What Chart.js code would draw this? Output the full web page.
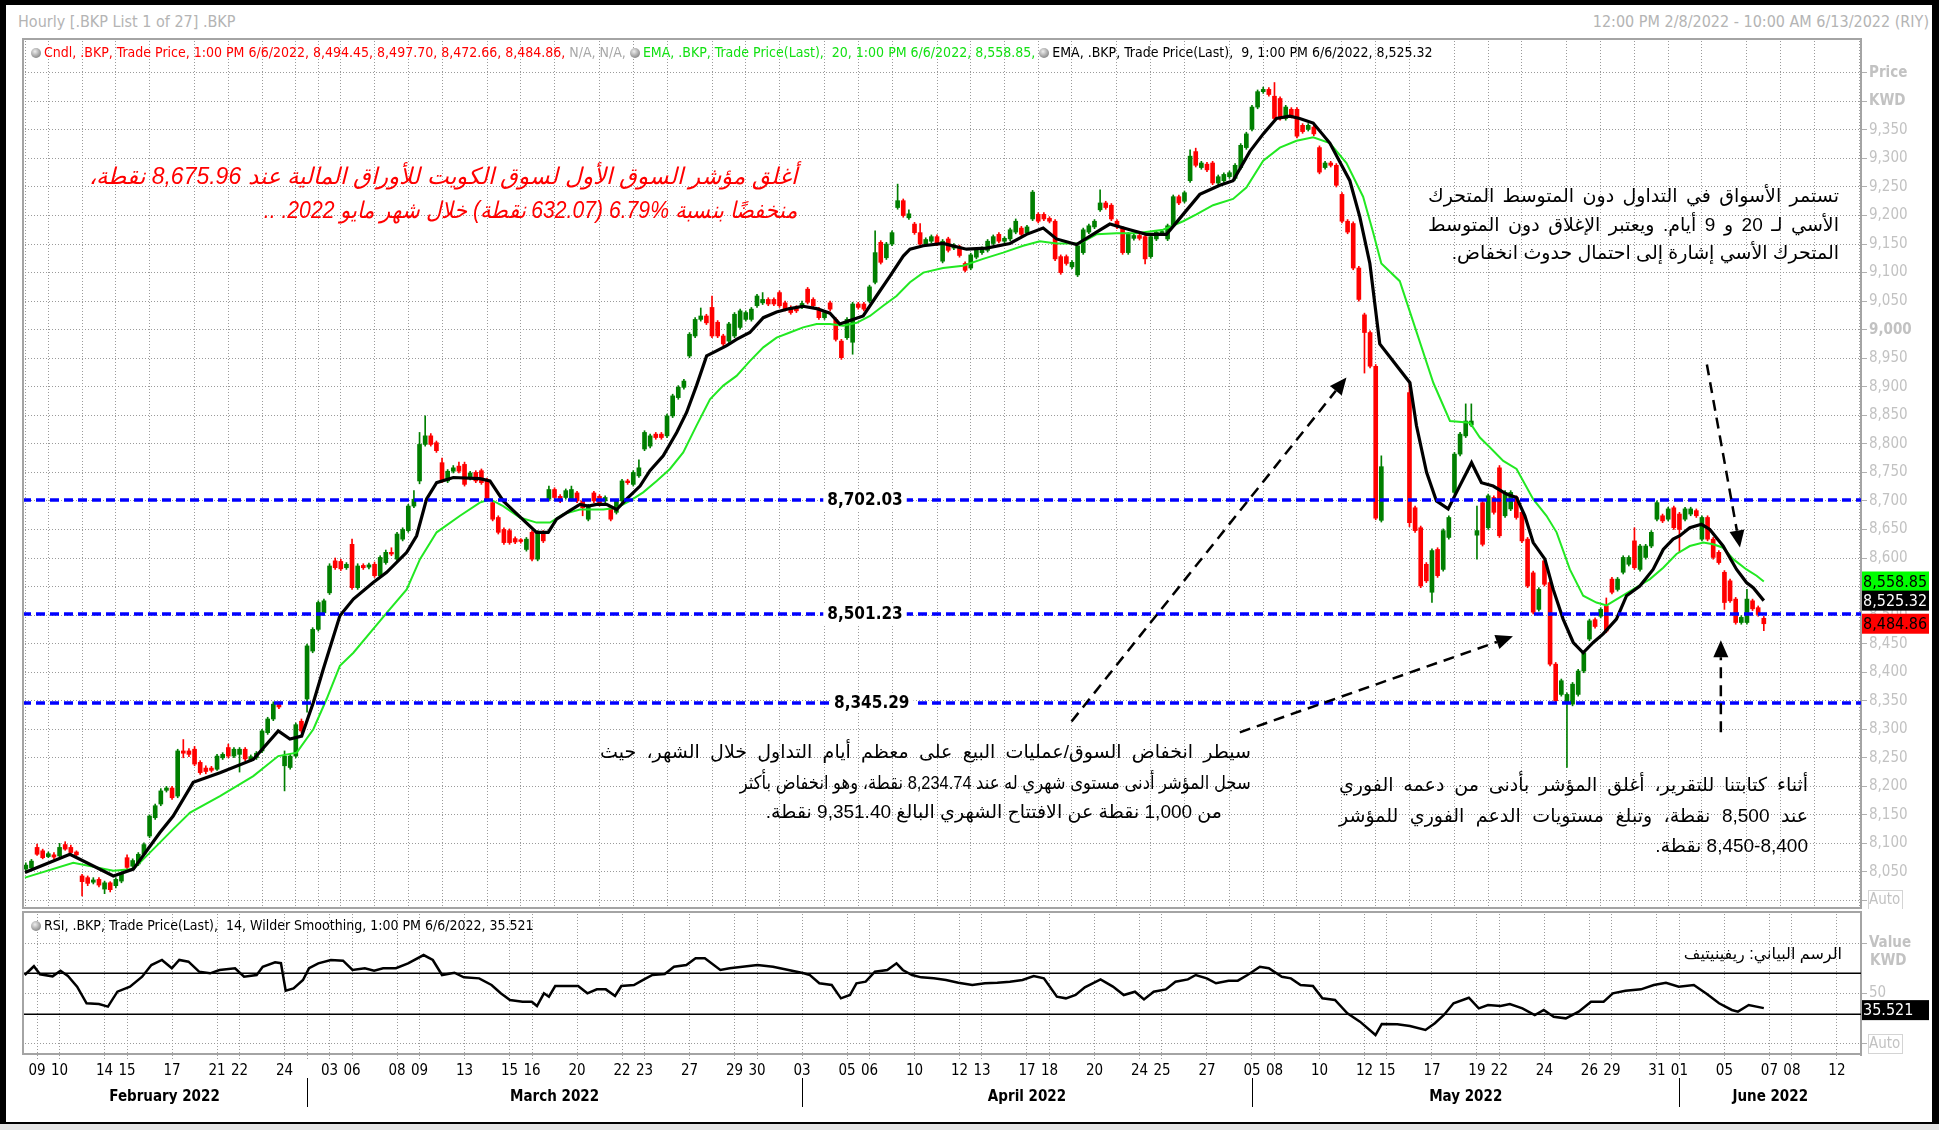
<!DOCTYPE html>
<html lang="en">
<head>
<meta charset="utf-8">
<title>.BKP Hourly</title>
<script src="https://cdn.jsdelivr.net/npm/chart.js@4.4.1/dist/chart.umd.min.js"></script>
<style>
  html, body { margin: 0; padding: 0; background: #fff; }
  body { width: 1939px; height: 1130px; position: relative; overflow: hidden;
         font-family: 'Liberation Sans Narrow', 'DejaVu Sans Condensed', sans-serif; }
  #frame { position: absolute; left: 0; top: 0; width: 1939px; height: 1124px; box-sizing: border-box;
           border-style: solid; border-color: #000; border-width: 5px 7px 2px 6px; }
  #strip { position: absolute; left: 0; top: 1124px; width: 1939px; height: 6px; background: #e4e4e4; }
  canvas { position: absolute; }
  .t { position: absolute; white-space: nowrap; }
  .hdr { color: #b4b4b4; font-size: 16px; line-height: 18px; }
  .leg { font-size: 14px; line-height: 18px; }
  .clock { display: inline-block; width: 10px; height: 10px; border-radius: 50%; margin-right: 3px;
           background: radial-gradient(circle at 40% 35%, #eeeeee, #666666); vertical-align: -1px; }
  .ar { position: absolute; direction: rtl; white-space: nowrap;
        font-family: 'Liberation Sans', 'DejaVu Sans', sans-serif; }
</style>
</head>
<body>
<div id="frame"></div>
<div id="strip"></div>
<div class="t hdr" style="left:18px;top:13px">Hourly [.BKP List 1 of 27] .BKP</div>
<div class="t hdr" style="right:10px;top:13px">12:00 PM 2/8/2022 - 10:00 AM 6/13/2022 (RIY)</div>

<canvas id="mainChart" width="1908" height="871" style="left:22px;top:38px"></canvas>
<canvas id="rsiChart" width="1908" height="209" style="left:22px;top:911px"></canvas>

<div class="t leg" style="left:31px;top:43px">
  <span class="clock"></span><span style="color:#ff0000">Cndl, .BKP, Trade Price, 1:00 PM 6/6/2022, 8,494.45, 8,497.70, 8,472.66, 8,484.86, </span><span style="color:#a8a8a8">N/A, N/A, </span><span class="clock"></span><span style="color:#12e012">EMA, .BKP, Trade Price(Last),&nbsp; 20, 1:00 PM 6/6/2022, 8,558.85, </span><span class="clock"></span><span style="color:#000">EMA, .BKP, Trade Price(Last),&nbsp; 9, 1:00 PM 6/6/2022, 8,525.32</span>
</div>
<div class="t leg" style="left:31px;top:916px">
  <span class="clock"></span><span style="color:#000">RSI, .BKP, Trade Price(Last),&nbsp; 14, Wilder Smoothing, 1:00 PM 6/6/2022, 35.521</span>
</div>

<script>
// ---- x axis: trading-day index (0 = 9 Feb 2022), 4 hourly bars per day ----
const dayTicks = [0,1,3,4,6,8,9,11,13,14,16,17,19,21,22,24,26,27,29,31,32,34,36,37,39,41,42,44,45,47,49,50,52,54,55,57,59,60,62,64,65,67,69,70,72,73,75,77,78,80];
const dayTickLabels = ['09','10','14','15','17','21','22','24','03','06','08','09','13','15','16','20','22','23','27','29','30','03','05','06','10','12','13','17','18','20','24','25','27','05','08','10','12','15','17','19','22','24','26','29','31','01','05','07','08','12'];
const monthStarts = [12, 34, 54, 73];
const monthNames = ['February 2022', 'March 2022', 'April 2022', 'May 2022', 'June 2022'];
const priceTicks = [8000,8050,8100,8150,8200,8250,8300,8350,8400,8450,8500,8550,8600,8650,8700,8750,8800,8850,8900,8950,9000,9050,9100,9150,9200,9250,9300,9350,9400,9450];
const rsiTicks = [0, 50, 100];

// ---- hourly candles, first two bars are 8 Feb 12:00 and 13:00 ----
const opens = [8055,8057,
  8093,8087,8077,8080, 8078,8098,8093,8085, 8043,8040,8032,8037, 8020,8031,8026,8034, 8075,8060,8064,8081,
  8113,8145,8169,8193, 8197,8183,8262,8262, 8265,8242,8232,8232, 8230,8250,8268,8253, 8256,8265,8247,8250,
  8262,8294,8318,8344, 8236,8233,8253,8314, 8353,8437,8475,8504, 8539,8595,8594,8583, 8624,8548,8587,8584,
  8589,8569,8592,8610, 8598,8633,8648,8691, 8735,8799,8814,8802, 8767,8735,8752,8761, 8764,8740,8750,8753,
  8735,8697,8671,8650, 8648,8634,8632,8615, 8645,8598,8645,8703, 8720,8708,8706,8703, 8714,8700,8668,8714,
  8708,8700,8688,8680, 8700,8735,8729,8744, 8791,8796,8817,8817, 8814,8849,8881,8899, 8954,8989,9018,9024,
  9039,9013,8989,8980, 8989,9004,9018,9018, 9042,9047,9053,9053, 9065,9047,9039,9039, 9040,9071,9053,9036,
  9021,9047,9018,8980, 8986,8978,9045,9045, 9050,9083,9153,9126, 9150,9214,9226,9196, 9185,9170,9150,9155,
  9163,9120,9159,9143, 9145,9116,9108,9127, 9135,9139,9151,9167, 9155,9159,9171,9178, 9170,9194,9202,9202,
  9195,9190,9128,9128, 9110,9096,9135,9171, 9180,9210,9222,9218, 9190,9178,9135,9160, 9165,9163,9128,9159,
  9168,9159,9182,9233, 9225,9261,9312,9284, 9290,9292,9257,9261, 9268,9265,9284,9319, 9351,9390,9417,9421,
  9409,9405,9370,9386, 9386,9358,9351,9355, 9319,9284,9292,9288, 9237,9190,9186,9108, 9026,8995,8936,8666,
  null,null,null,null, 8890,8688,8653,8589, 8540,8615,8580,8636, 8715,8782,8814,8833, 8640,8697,8653,8706,
  8758,8674,8686,8706, 8680,8633,8574,8510, 8595,8557,8414,8361, 8347,8344,8361,8402, 8458,8492,8498,8516,
  8563,8545,8575,8589, 8630,8580,8601,8621, 8668,8674,8668,8688, 8677,8668,8677,8683, 8633,8671,8633,8610,
  8575,8560,8528,8487, 8487,8525,8513,8494.45];
const highs = [8066,8072,
  8099,8090,8085,8084, 8100,8103,8097,8087, 8046,8043,8040,8040, 8034,8033,8040,8049, 8080,8073,8084,8101,
  8150,8169,8196,8200, 8200,8265,8282,8266, 8270,8245,8236,8235, 8256,8259,8274,8268, 8268,8268,8255,8261,
  8300,8321,8348,8348, 8262,8256,8311,8318, 8449,8478,8525,8528, 8590,8600,8598,8592, 8633,8590,8590,8591,
  8593,8604,8614,8618, 8645,8653,8694,8718, 8820,8849,8818,8805, 8775,8755,8762,8768, 8768,8752,8753,8756,
  8740,8700,8674,8653, 8651,8637,8634,8636, 8648,8648,8648,8726, 8723,8711,8721,8726, 8717,8703,8694,8717,
  8711,8709,8691,8703, 8738,8738,8753,8772, 8823,8817,8820,8820, 8852,8887,8902,8913, 8995,9021,9038,9027,
  9059,9016,8992,9013, 9030,9036,9033,9039, 9062,9065,9056,9056, 9068,9050,9042,9042, 9050,9074,9056,9039,
  9033,9050,9021,8983, 9021,9048,9048,9048, 9078,9173,9156,9153, 9173,9255,9229,9210, 9188,9186,9161,9166,
  9166,9158,9162,9151, 9148,9119,9134,9142, 9145,9158,9166,9170, 9163,9178,9194,9181, 9183,9244,9205,9205,
  9198,9193,9131,9131, 9121,9150,9178,9185, 9193,9245,9225,9221, 9193,9181,9170,9168, 9168,9166,9166,9174,
  9175,9185,9236,9236, 9243,9315,9318,9295, 9293,9295,9271,9275, 9278,9291,9326,9346, 9393,9420,9425,9424,
  9433,9408,9393,9389, 9389,9361,9361,9358, 9322,9295,9295,9291, 9240,9193,9189,9111, 9029,8998,8939,8779,
  null,null,null,null, 8910,8691,8656,8592, 8616,8618,8651,8674, 8785,8820,8870,8870, 8691,8700,8712,8709,
  8762,8718,8718,8709, 8683,8636,8577,8548, 8598,8560,8417,8388, 8364,8382,8405,8437, 8493,8495,8513,8530,
  8566,8566,8604,8604, 8653,8624,8624,8648, 8700,8677,8689,8691, 8680,8689,8689,8686, 8674,8674,8636,8613,
  8578,8563,8531,8499, 8545,8528,8516,8497.70];
const lows = [8050,8054,
  8079,8073,8075,8073, 8076,8088,8082,8078, 8008,8026,8029,8024, 8012,8015,8022,8031, 8055,8056,8061,8078,
  8110,8142,8166,8190, 8177,8180,8250,8252, 8236,8221,8222,8225, 8228,8247,8250,8250, 8225,8245,8244,8247,
  8259,8291,8315,8336, 8192,8230,8250,8294, 8330,8434,8472,8500, 8536,8580,8578,8580, 8545,8545,8580,8581,
  8566,8566,8589,8604, 8595,8630,8645,8688, 8730,8796,8796,8785, 8732,8732,8749,8749, 8726,8737,8732,8729,
  8700,8665,8642,8624, 8624,8625,8626,8612, 8595,8595,8627,8700, 8703,8697,8703,8700, 8697,8674,8665,8697,
  8691,8697,8665,8677, 8697,8729,8726,8741, 8788,8793,8808,8808, 8811,8846,8878,8896, 8951,8986,9015,9009,
  8986,8986,8972,8977, 8986,9001,9015,9015, 9039,9044,9042,9042, 9039,9033,9027,9030, 9037,9045,9039,9018,
  9018,9033,8980,8948, 8983,8957,9036,9033, 9047,9080,9115,9123, 9147,9211,9197,9193, 9167,9147,9147,9152,
  9147,9117,9136,9140, 9127,9101,9105,9124, 9132,9136,9148,9152, 9152,9156,9168,9164, 9167,9191,9187,9191,
  9187,9121,9097,9113, 9107,9093,9132,9168, 9177,9207,9211,9191, 9177,9132,9132,9157, 9157,9115,9125,9156,
  9165,9156,9179,9219, 9222,9258,9285,9281, 9277,9254,9254,9258, 9265,9262,9281,9316, 9348,9387,9414,9409,
  9367,9367,9367,9371, 9336,9344,9348,9340, 9273,9281,9285,9250, 9187,9168,9105,9050, 8924,8933,8667,8663,
  null,null,null,null, 8655,8645,8548,8557, 8522,8566,8577,8633, 8712,8779,8811,8830, 8598,8621,8650,8677,
  8636,8671,8683,8668, 8627,8548,8502,8507, 8551,8411,8347,8358, 8233,8341,8358,8399, 8455,8477,8495,8469,
  8537,8542,8572,8586, 8580,8577,8598,8618, 8665,8662,8665,8650, 8610,8665,8674,8671, 8630,8630,8598,8589,
  8510,8522,8484,8484, 8484,8508,8498,8472.66];
const closes = [8062,8069,
  8081,8075,8082,8076, 8093,8090,8084,8080, 8033,8030,8036,8027, 8031,8019,8037,8046, 8058,8070,8081,8098,
  8148,8166,8192,8197, 8180,8262,8258,8256, 8239,8224,8226,8228, 8253,8256,8253,8265, 8265,8248,8252,8258,
  8297,8318,8344,8339, 8253,8253,8308,8297, 8446,8475,8522,8525, 8586,8583,8581,8589, 8548,8586,8583,8588,
  8569,8601,8610,8607, 8642,8650,8691,8703, 8799,8814,8799,8788, 8735,8752,8758,8752, 8729,8749,8735,8732,
  8703,8668,8645,8627, 8627,8628,8629,8633, 8598,8645,8630,8720, 8706,8700,8718,8720, 8700,8688,8691,8700,
  8694,8706,8668,8700, 8735,8732,8750,8758, 8820,8814,8811,8811, 8849,8884,8899,8910, 8992,9018,9024,9012,
  8989,8989,8975,9010, 9027,9033,9030,9036, 9059,9053,9045,9045, 9042,9036,9030,9033, 9046,9048,9042,9021,
  9030,9036,8983,8951, 9018,9045,9039,9036, 9075,9135,9118,9150, 9170,9226,9200,9203, 9170,9150,9158,9163,
  9150,9155,9139,9148, 9130,9104,9131,9139, 9142,9155,9163,9155, 9160,9175,9190,9167, 9180,9241,9190,9194,
  9190,9124,9100,9116, 9118,9147,9175,9182, 9190,9222,9214,9194, 9180,9135,9167,9165, 9160,9124,9163,9171,
  9172,9182,9233,9222, 9240,9304,9288,9292, 9280,9257,9268,9272, 9275,9288,9323,9343, 9390,9417,9421,9412,
  9370,9370,9390,9374, 9339,9347,9358,9343, 9276,9292,9288,9253, 9190,9171,9108,9053, 8995,8936,8670,8760,
  null,null,null,null, 8662,8648,8551,8560, 8613,8569,8648,8671, 8782,8817,8840,8840, 8648,8624,8709,8680,
  8639,8715,8715,8671, 8630,8551,8505,8545, 8554,8414,8350,8385, 8361,8379,8402,8434, 8490,8480,8510,8472,
  8540,8563,8601,8601, 8583,8621,8621,8645, 8697,8665,8686,8653, 8650,8686,8686,8674, 8671,8633,8601,8592,
  8522,8525,8487,8496, 8528,8511,8501,8484.86];

// ---- EMA 9 (black) and EMA 20 (green) ----
const ema9Days = [-0.54,1.46,3.39,4.28,5.46,6.05,6.94,8.13,9.61,10.72,11.24,11.76,12.28,12.72,13.46,14.06,14.94,15.54,16.43,16.87,17.31,17.76,18.5,19.68,20.13,20.72,21.17,22.2,22.72,23.09,23.68,24.13,24.5,24.87,25.31,25.76,26.2,26.8,27.24,27.83,28.43,28.87,29.31,29.76,30.2,30.65,31.09,31.68,32.28,32.87,33.46,34.05,34.65,35.24,35.68,36.13,36.72,37.31,37.91,38.5,38.8,39.39,40.27,41.31,42.2,43.24,43.98,44.72,45.31,46.2,47.09,47.68,48.57,49.31,50.2,50.94,51.68,52.57,53.16,53.9,54.5,55.09,55.68,56.12,56.72,57.46,58.35,58.79,59.24,59.68,61.02,61.31,61.76,62.2,62.72,63.09,63.76,64.2,64.72,65.31,65.76,66.13,66.5,67.02,67.39,67.83,68.28,68.72,69.17,69.61,70.2,70.65,71.24,71.83,72.28,72.72,73.02,73.46,73.98,74.35,74.94,75.54,75.98,76.28,76.75];
const ema9 = [8049,8081,8043,8055,8119,8148,8207,8224,8247,8297,8283,8288,8347,8405,8499,8528,8557,8575,8610,8639,8703,8732,8741,8739,8735,8700,8683,8645,8645,8668,8683,8694,8691,8694,8694,8685,8703,8726,8753,8779,8820,8855,8902,8954,8963,8972,8983,8995,9021,9031,9037,9041,9037,9029,9010,9016,9024,9059,9094,9129,9141,9147,9151,9141,9143,9151,9167,9178,9159,9149,9171,9185,9175,9167,9167,9202,9237,9253,9261,9312,9343,9370,9374,9370,9362,9327,9261,9198,9116,8975,8907,8832,8750,8700,8686,8715,8767,8732,8726,8712,8706,8674,8627,8598,8545,8493,8452,8434,8452,8467,8493,8534,8551,8580,8615,8633,8639,8653,8659,8650,8621,8580,8557,8548,8525.32];
const ema20Days = [-0.54,1.61,3.39,4.28,5.17,6.05,6.8,8.13,9.61,10.72,11.54,12.28,12.87,13.46,14.06,15.54,16.43,17.02,17.76,18.8,19.68,20.13,20.72,21.46,22.2,22.8,23.39,24.13,25.17,25.76,26.35,26.94,27.54,28.13,28.72,29.31,29.91,30.5,31.09,31.68,32.28,32.87,33.46,34.05,34.65,35.24,35.83,36.43,37.02,37.61,38.2,38.8,39.39,40.27,41.16,42.05,42.94,43.83,44.57,45.31,46.35,47.09,47.98,48.87,50.05,50.94,51.53,52.27,53.16,53.75,54.5,55.24,55.98,56.72,57.46,58.2,58.94,59.38,59.75,60.57,62.06,62.8,63.69,64.13,64.57,65.17,65.76,66.5,67.09,67.54,68.13,68.72,69.31,69.76,70.35,70.94,71.69,72.28,72.87,73.46,74.06,74.5,74.94,75.39,75.98,76.43,76.75];
const ema20 = [8040,8066,8052,8055,8090,8125,8154,8183,8218,8253,8259,8300,8353,8411,8434,8504,8545,8598,8645,8674,8697,8703,8691,8671,8662,8662,8677,8685,8685,8688,8700,8715,8735,8756,8785,8832,8878,8902,8919,8945,8969,8986,8995,9004,9010,9010,9007,9012,9024,9042,9059,9083,9100,9108,9112,9124,9135,9147,9155,9151,9151,9167,9169,9169,9175,9190,9202,9218,9229,9249,9296,9319,9331,9337,9327,9292,9233,9171,9116,9085,8907,8840,8837,8811,8794,8770,8756,8703,8674,8645,8580,8534,8522,8517,8531,8545,8563,8583,8607,8621,8627,8624,8618,8598,8580,8569,8558.85];

// ---- RSI 14 (Wilder) ----
const rsiDays = [-0.55,-0.14,0.13,0.69,1.04,1.37,1.78,2.2,2.75,3.15,3.57,4.13,4.67,5.08,5.55,5.99,6.32,6.73,7.2,7.69,8.11,8.8,9.2,9.76,10.03,10.58,10.84,11.05,11.4,11.82,12.09,12.5,13.06,13.6,14.02,14.57,14.98,15.38,15.95,16.49,17.18,17.59,18.0,18.55,18.97,19.65,20.2,20.61,21.02,21.58,21.99,22.22,22.53,22.75,23.03,23.64,24.05,24.46,24.88,25.28,25.69,25.97,26.53,26.94,27.35,27.9,28.31,28.86,29.27,29.68,30.37,30.78,32.02,32.71,33.4,34.08,34.35,34.77,35.32,35.73,36.13,36.42,36.83,37.24,37.79,38.2,38.48,38.89,39.3,39.86,40.4,40.95,41.57,42.13,42.68,43.24,43.8,44.3,44.75,45.33,45.73,46.16,46.57,47.27,47.82,48.3,48.8,49.2,49.63,50.17,50.6,51.15,51.5,51.99,52.4,52.96,53.37,53.8,54.35,54.75,55.33,55.73,56.16,56.71,57.13,57.69,58.24,58.8,59.49,59.77,60.46,61.02,61.71,62.13,62.53,62.96,63.64,64.08,64.49,65.05,65.46,66.02,66.57,66.97,67.41,67.95,68.52,69.07,69.63,70.04,70.6,71.29,71.86,72.4,72.97,73.64,74.22,74.76,75.33,75.6,76.08,76.75];
const rsiValues = [68.3,77,69,67,72.6,67.3,56.8,40.3,39.6,37,51.8,56.8,66.6,78.2,83.2,75,83.2,81.5,71.6,70,73.3,75,66.6,68.3,76.5,80.9,80,52.8,55.1,63.4,75,79.9,83.2,82.5,73.3,75,72.6,75,75,79.9,88.1,83.2,68.3,70.6,66,65,58.4,50.2,43.6,41.9,41.9,37.6,50.2,46.8,57.4,57.4,57.4,50.2,54.1,54.1,47.5,57.4,58.4,63.4,68.3,69.3,76.5,78.2,84.8,84.8,73.3,75,78.2,76.5,73.3,70,68.3,60.1,58.4,45.2,48.5,60.1,61.7,71.6,73.3,79.9,73.3,68.3,66,65,63.4,60.7,58.4,60.1,60.7,61.7,63.4,67.3,65,46.9,45.2,48.5,56.1,64,56.8,48.5,51.8,44.2,51.8,54.1,61.7,64,68.3,65,60.1,62.7,62.7,68.3,76.5,75,66.6,65,58.4,57.4,45.2,43.6,30.4,22.1,8.9,19.8,19.5,17.8,13.9,20.5,28.7,40.3,45.8,35.3,38.6,37.6,39.6,35.3,28.7,33.7,27,25.4,32,41.9,41.9,50.2,52.8,54.1,58.4,60.7,56.8,58.4,49.5,40.3,33.7,32,38.6,35.521];
const rsiBands = [30, 70];

// ---- drawn objects on the price panel ----
const supportLevels = [8702.03, 8501.23, 8345.29];
const arrowTails = [[45.98, 8313.6], [53.46, 8294.6], [74.22, 8939], [74.84, 8294.6]];
const arrowHeads = [[58.2, 8916.2], [65.6, 8462.8], [75.69, 8618.4], [74.84, 8455.8]];

const NARROW = '"Liberation Sans Narrow", "DejaVu Sans Condensed", sans-serif';
const X_MIN = -0.67, X_MAX = 81.07;
const UP = '#007f00', DOWN = '#ff0000';
const GRID = '#9a9a9a', AXIS_TXT = '#c2c2c2', FRAME = '#a4a4a4';
const gridDays = [...new Set(dayTicks.concat(monthStarts))].sort((a, b) => a - b);
const dayLabel = {};
dayTicks.forEach((d, i) => { dayLabel[d] = dayTickLabels[i]; });

// candles: wick and body as floating bars on the day axis
const wickData = [], bodyData = [], candleColors = [];
opens.forEach((o, i) => {
  if (o === null) return;
  const x = (i - 2) / 4;
  const c = closes[i];
  wickData.push({ x: x, y: [lows[i], highs[i]] });
  bodyData.push({ x: x, y: [Math.min(o, c), Math.max(o, c)] });
  candleColors.push(c >= o ? UP : DOWN);
});
const pairUp = (xs, ys) => xs.map((x, i) => ({ x: x, y: ys[i] }));
const fmt2 = v => v.toLocaleString('en-US', { minimumFractionDigits: 2, maximumFractionDigits: 2 });

// keep the plot rectangle exactly where the canvas puts it
function fixedY(axis) { axis.width = 69; axis.paddingTop = 0; axis.paddingBottom = 0; }
function fixedX(h) { return axis => { axis.height = h; axis.paddingLeft = 0; axis.paddingRight = 0; }; }

function drawFrame(chart) {
  const { ctx, chartArea: a } = chart;
  ctx.save();
  ctx.strokeStyle = FRAME;
  ctx.lineWidth = 2;
  ctx.beginPath();
  ctx.moveTo(a.right, a.top + 1); ctx.lineTo(a.left + 1, a.top + 1);
  ctx.lineTo(a.left + 1, a.bottom - 1); ctx.lineTo(a.right, a.bottom - 1);
  ctx.stroke();
  ctx.restore();
}

function autoBox(chart, yPix) {
  const { ctx, chartArea: a } = chart;
  ctx.save();
  ctx.strokeStyle = '#d4d4d4';
  ctx.lineWidth = 1;
  ctx.strokeRect(a.right + 7.5, Math.round(yPix) - 9.5, 34, 19);
  ctx.restore();
}

function valueBox(chart, yPix, text, bg, fg) {
  const { ctx, chartArea: a } = chart;
  ctx.save();
  ctx.fillStyle = bg;
  ctx.fillRect(a.right + 1, yPix - 10, 67, 20);
  ctx.fillStyle = fg;
  ctx.font = '16px ' + NARROW;
  ctx.textAlign = 'left';
  ctx.textBaseline = 'middle';
  ctx.fillText(text, a.right + 2, yPix + 1);
  ctx.restore();
}

function drawArrow(ctx, x1, y1, x2, y2) {
  const ang = Math.atan2(y2 - y1, x2 - x1), head = 17, hw = 7.5;
  const bx = x2 - head * Math.cos(ang), by = y2 - head * Math.sin(ang);
  ctx.strokeStyle = '#000';
  ctx.lineWidth = 2.5;
  ctx.setLineDash([11, 7]);
  ctx.beginPath(); ctx.moveTo(x1, y1); ctx.lineTo(bx, by); ctx.stroke();
  ctx.setLineDash([]);
  ctx.fillStyle = '#000';
  ctx.beginPath();
  ctx.moveTo(x2, y2);
  ctx.lineTo(bx + hw * Math.sin(ang), by - hw * Math.cos(ang));
  ctx.lineTo(bx - hw * Math.sin(ang), by + hw * Math.cos(ang));
  ctx.closePath();
  ctx.fill();
}

const priceDecor = {
  id: 'priceDecor',
  afterDatasetsDraw(chart) {
    const { ctx, chartArea: a, scales: { x, y } } = chart;
    ctx.save();
    supportLevels.forEach(lvl => {
      const py = Math.round(y.getPixelForValue(lvl));
      ctx.strokeStyle = '#0000ff';
      ctx.lineWidth = 3.5;
      ctx.setLineDash([9, 5]);
      ctx.beginPath(); ctx.moveTo(a.left, py); ctx.lineTo(a.right, py); ctx.stroke();
      ctx.setLineDash([]);
      const txt = fmt2(lvl);
      ctx.font = 'bold 17px ' + NARROW;
      const w = ctx.measureText(txt).width;
      const px = x.getPixelForValue(lvl < 8400 ? 37.1 : 36.8);
      ctx.fillStyle = '#fff';
      ctx.fillRect(px - w / 2 - 4, py - 10, w + 8, 20);
      ctx.fillStyle = '#000';
      ctx.textAlign = 'center';
      ctx.textBaseline = 'middle';
      ctx.fillText(txt, px, py + 1);
    });
    arrowTails.forEach((t, i) => {
      const h = arrowHeads[i];
      drawArrow(ctx, x.getPixelForValue(t[0]), y.getPixelForValue(t[1]),
                     x.getPixelForValue(h[0]), y.getPixelForValue(h[1]));
    });
    ctx.restore();
  },
  afterDraw(chart) {
    const y = chart.scales.y;
    const e20 = ema20[ema20.length - 1], e9 = ema9[ema9.length - 1], last = closes[closes.length - 1];
    drawFrame(chart);
    autoBox(chart, y.getPixelForValue(8000));
    valueBox(chart, y.getPixelForValue(e20), fmt2(e20), '#00ff00', '#000');
    valueBox(chart, y.getPixelForValue(e9), fmt2(e9), '#000', '#fff');
    valueBox(chart, y.getPixelForValue(last), fmt2(last), '#ff0000', '#000');
  }
};

const rsiDecor = {
  id: 'rsiDecor',
  beforeDatasetsDraw(chart) {
    const { ctx, chartArea: a, scales: { y } } = chart;
    ctx.save();
    ctx.strokeStyle = '#000';
    ctx.lineWidth = 1.5;
    rsiBands.forEach(b => {
      const py = Math.round(y.getPixelForValue(b)) + 0.25;
      ctx.beginPath(); ctx.moveTo(a.left, py); ctx.lineTo(a.right, py); ctx.stroke();
    });
    ctx.restore();
  },
  afterDraw(chart) {
    const { ctx, chartArea: a, scales: { x, y } } = chart;
    drawFrame(chart);
    autoBox(chart, y.getPixelForValue(0));
    ctx.save();
    ctx.font = 'bold 15px ' + NARROW;
    ctx.fillStyle = AXIS_TXT;
    ctx.textBaseline = 'middle';
    ctx.fillText('KWD', a.right + 9, y.getPixelForValue(100) + 18);
    ctx.restore();
    const last = rsiValues[rsiValues.length - 1];
    valueBox(chart, y.getPixelForValue(last) + 2, last.toFixed(3), '#000', '#fff');
    // month captions and separators
    ctx.save();
    const bounds = [X_MIN].concat(monthStarts, [X_MAX]);
    ctx.font = 'bold 15px ' + NARROW;
    ctx.fillStyle = '#000';
    ctx.textAlign = 'center';
    ctx.textBaseline = 'middle';
    monthNames.forEach((m, i) => {
      const cx = (x.getPixelForValue(bounds[i]) + x.getPixelForValue(bounds[i + 1])) / 2;
      ctx.fillText(m, cx, a.bottom + 42);
    });
    ctx.strokeStyle = '#000';
    ctx.lineWidth = 1;
    monthStarts.forEach(d => {
      const px = Math.round(x.getPixelForValue(d)) + 0.5;
      ctx.beginPath(); ctx.moveTo(px, a.bottom + 23); ctx.lineTo(px, a.bottom + 52); ctx.stroke();
    });
    ctx.restore();
  }
};

Chart.defaults.font.family = NARROW;
Chart.defaults.devicePixelRatio = 1;

new Chart(document.getElementById('mainChart'), {
  type: 'bar',
  data: {
    datasets: [
      { type: 'line', label: 'EMA 9', data: pairUp(ema9Days, ema9), borderColor: '#000', borderWidth: 3.2,
        pointRadius: 0, tension: 0, order: 0 },
      { type: 'line', label: 'EMA 20', data: pairUp(ema20Days, ema20), borderColor: '#22e822', borderWidth: 2,
        pointRadius: 0, tension: 0, order: 0.5 },
      { label: 'Body', data: bodyData, backgroundColor: candleColors, barThickness: 4, minBarLength: 1,
        grouped: false, order: 1 },
      { label: 'Wick', data: wickData, backgroundColor: candleColors, barThickness: 1, grouped: false, order: 2 }
    ]
  },
  options: {
    responsive: false,
    animation: false,
    layout: { padding: 0, autoPadding: false },
    plugins: { legend: { display: false }, tooltip: { enabled: false } },
    scales: {
      x: {
        type: 'linear', min: X_MIN, max: X_MAX, offset: false,
        afterBuildTicks: axis => { axis.ticks = gridDays.map(v => ({ value: v })); },
        afterFit: fixedX(0),
        ticks: { display: false },
        grid: { color: GRID, lineWidth: 1, drawTicks: false, borderDash: [1, 2] },
        border: { display: false, dash: [1, 2] }
      },
      y: {
        position: 'right', min: 7985.1, max: 9511.0,
        afterBuildTicks: axis => { axis.ticks = priceTicks.map(v => ({ value: v })); },
        afterFit: fixedY,
        ticks: {
          color: AXIS_TXT, padding: 2,
          font: c => ({ family: NARROW, size: 15,
            weight: (c.tick && [9000, 9400, 9450].includes(c.tick.value)) ? 'bold' : 'normal' }),
          callback: v => v === 9450 ? 'Price' : v === 9400 ? 'KWD' : v === 8000 ? 'Auto' : v.toLocaleString('en-US')
        },
        grid: { color: GRID, lineWidth: 1, tickLength: 6, tickColor: '#b0b0b0', tickBorderDash: [], borderDash: [1, 2] },
        border: { display: true, color: FRAME, width: 2, dash: [1, 2] }
      }
    }
  },
  plugins: [priceDecor]
});

new Chart(document.getElementById('rsiChart'), {
  type: 'line',
  data: {
    datasets: [
      { label: 'RSI', data: pairUp(rsiDays, rsiValues), borderColor: '#000', borderWidth: 2.5,
        pointRadius: 0, tension: 0 }
    ]
  },
  options: {
    responsive: false,
    animation: false,
    layout: { padding: 0, autoPadding: false },
    plugins: { legend: { display: false }, tooltip: { enabled: false } },
    scales: {
      x: {
        type: 'linear', min: X_MIN, max: X_MAX, offset: false,
        afterBuildTicks: axis => { axis.ticks = gridDays.map(v => ({ value: v })); },
        afterFit: fixedX(65),
        ticks: { autoSkip: false, maxRotation: 0, minRotation: 0, padding: 1, color: '#000',
                 font: { family: NARROW, size: 15 },
                 callback: v => dayLabel[v] || '' },
        grid: { color: GRID, lineWidth: 1, drawTicks: true, tickLength: 6, tickColor: GRID,
                tickBorderDash: [1, 2], borderDash: [1, 2] },
        border: { display: false, dash: [1, 2] }
      },
      y: {
        position: 'right', min: -10.9, max: 131.7,
        afterBuildTicks: axis => { axis.ticks = rsiTicks.map(v => ({ value: v })); },
        afterFit: fixedY,
        ticks: { color: AXIS_TXT, padding: 2,
                 font: c => ({ family: NARROW, size: 15, weight: (c.tick && c.tick.value === 100) ? 'bold' : 'normal' }),
                 callback: v => v === 100 ? 'Value' : v === 0 ? 'Auto' : String(v) },
        grid: { color: GRID, lineWidth: 1, tickLength: 6, tickColor: '#b0b0b0', tickBorderDash: [], borderDash: [1, 2] },
        border: { display: true, color: FRAME, width: 2, dash: [1, 2] }
      }
    }
  },
  plugins: [rsiDecor]
});

// ---- commentary text (Arabic), one div per printed line ----
const notes = [
  { color: '#ff0000', size: 23, italic: true, lines: [
    { text: 'أغلق مؤشر السوق الأول لسوق الكويت للأوراق المالية عند 8,675.96 نقطة،', left: 89, right: 797, cy: 176, justify: true },
    { text: 'منخفضًا بنسبة %6.79 (632.07 نقطة) خلال شهر مايو 2022. ..', left: 262, right: 797, cy: 210 } ] },
  { color: '#000', size: 19, lines: [
    { text: 'تستمر الأسواق في التداول دون المتوسط المتحرك', left: 1428, right: 1839, cy: 195, justify: true },
    { text: 'الأسي لـ 20 و 9 أيام. ويعتبر الإغلاق دون المتوسط', left: 1428, right: 1839, cy: 224, justify: true },
    { text: 'المتحرك الأسي إشارة إلى احتمال حدوث انخفاض.', left: 1440, right: 1839, cy: 252 } ] },
  { color: '#000', size: 19, lines: [
    { text: 'سيطر انخفاض السوق/عمليات البيع على معظم أيام التداول خلال الشهر، حيث', left: 600, right: 1251, cy: 751, justify: true },
    { text: 'سجل المؤشر أدنى مستوى شهري له عند 8,234.74 نقطة، وهو انخفاض بأكثر', left: 738, right: 1251, cy: 782, justify: true },
    { text: 'من 1,000 نقطة عن الافتتاح الشهري البالغ 9,351.40 نقطة.', left: 700, right: 1222, cy: 811 } ] },
  { color: '#000', size: 19, lines: [
    { text: 'أثناء كتابتنا للتقرير، أغلق المؤشر بأدنى من دعمه الفوري', left: 1339, right: 1808, cy: 784, justify: true },
    { text: 'عند 8,500 نقطة، وتبلغ مستويات الدعم الفوري للمؤشر', left: 1339, right: 1808, cy: 815, justify: true },
    { text: '8,450-8,400 نقطة.', left: 1600, right: 1808, cy: 845 } ] },
  { color: '#000', size: 16, lines: [
    { text: 'الرسم البياني: ريفينيتيف', left: 1600, right: 1842, cy: 953 } ] }
];

notes.forEach(block => {
  block.lines.forEach(ln => {
    const el = document.createElement('div');
    el.className = 'ar';
    el.textContent = ln.text;
    const target = ln.right - ln.left;
    const lh = Math.round(block.size * 1.3);
    Object.assign(el.style, {
      left: ln.left + 'px', top: (ln.cy - lh / 2) + 'px', lineHeight: lh + 'px', height: lh + 'px',
      fontSize: block.size + 'px', color: block.color, fontStyle: block.italic ? 'italic' : 'normal'
    });
    document.body.appendChild(el);
    const natural = el.getBoundingClientRect().width;
    if (natural > target - 2) {
      // printed line is narrower than this font: squeeze it horizontally, anchored at the right edge
      el.style.left = (ln.right - natural) + 'px';
      el.style.transformOrigin = '100% 50%';
      el.style.transform = 'scaleX(' + ((target - 2) / natural).toFixed(4) + ')';
      return;
    }
    el.style.width = target + 'px';
    if (ln.justify) {
      el.style.whiteSpace = 'normal';
      el.style.textAlign = 'justify';
      el.style.textAlignLast = 'justify';
    } else {
      el.style.textAlign = 'right';
    }
  });
});
</script>
</body>
</html>
